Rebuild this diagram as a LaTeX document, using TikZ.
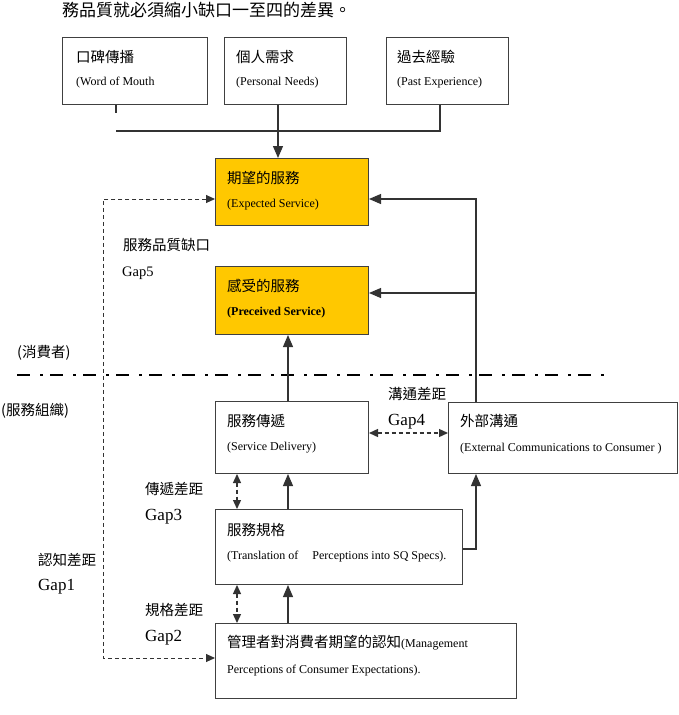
\documentclass[tikz,border=0pt]{standalone}
\usepackage{fontspec}
\setmainfont{Liberation Serif}
\newfontfamily\cjk{Noto Sans CJK TC}
\usetikzlibrary{arrows.meta}

\definecolor{boxgold}{HTML}{FFC800}
\newcommand\zhtext[1]{{\cjk\fontsize{14.5}{17}\selectfont #1}}

\tikzset{
  box/.style={draw=black!75, line width=1pt, anchor=north west, inner sep=0pt},
  goldbox/.style={box, fill=boxgold},
  en/.style={anchor=west, inner sep=0pt, font=\fontsize{12}{14}\selectfont},
  gaplbl/.style={anchor=west, inner sep=0pt, font=\fontsize{17}{20}\selectfont},
  line/.style={black!80, line width=1.1pt},
  tip/.style={line, -{Triangle[length=12pt,width=10pt]}},
  dtip/.style={line, line width=1.3pt, dash pattern=on 4pt off 3pt,
    {Triangle[length=9pt,width=8pt]}-{Triangle[length=9pt,width=8pt]}},
  sepline/.style={black, line width=2.5pt, dash pattern=on 13pt off 10pt on 3pt off 7pt}
}

\begin{document}
\begin{tikzpicture}[x=1pt,y=-1pt]
\useasboundingbox (0,0) rectangle (679,715);

\node[anchor=west, inner sep=0pt, font=\cjk\fontsize{17}{20}\selectfont] (intro) at (62,10) {務品質就必須縮小缺口一至四的差異。};

\node[box, minimum width=145, minimum height=67] (mouth) at (62,37) {};
\node[box, minimum width=122, minimum height=67] (needs) at (224,37) {};
\node[box, minimum width=122, minimum height=67] (past) at (386,37) {};
\node[en] (mouthzh) at (76,57) {\zhtext{口碑傳播}};
\node[en] (mouthen) at (76,83) {(Word of Mouth};
\node[en] (needszh) at (236,57) {\zhtext{個人需求}};
\node[en] (needsen) at (236,83) {(Personal Needs)};
\node[en] (pastzh) at (397,57) {\zhtext{過去經驗}};
\node[en] (pasten) at (397,83) {(Past Experience)};

\node[goldbox, minimum width=153, minimum height=67] (expect) at (215,158) {};
\node[en] (expectzh) at (227,178) {\zhtext{期望的服務}};
\node[en] (expecten) at (227,205) {(Expected Service)};

\node[goldbox, minimum width=153, minimum height=68] (perceive) at (215,266) {};
\node[en] (perceivezh) at (227,286) {\zhtext{感受的服務}};
\node[en, font=\fontsize{12}{14}\selectfont\bfseries] (perceiveen) at (227,313) {(Preceived Service)};

\node[box, minimum width=153, minimum height=72] (deliver) at (215,401) {};
\node[en] (deliverzh) at (227,421) {\zhtext{服務傳遞}};
\node[en] (deliveren) at (227,448) {(Service Delivery)};

\node[box, minimum width=229, minimum height=71] (extcomm) at (448,402) {};
\node[en] (extcommzh) at (460,421) {\zhtext{外部溝通}};
\node[en] (extcommen) at (460,449) {(External Communications to Consumer )};

\node[box, minimum width=247, minimum height=75] (spec) at (215,509) {};
\node[en] (speczh) at (227,530) {\zhtext{服務規格}};
\node[en] (specen) at (227,557) {(Translation of \hspace{8pt} Perceptions into SQ Specs).};

\node[box, minimum width=301, minimum height=75] (manage) at (215,623) {};
\node[en] (managezh) at (227,643) {\zhtext{管理者對消費者期望的認知}(Management};
\node[en] (manageen) at (227,671) {Perceptions of Consumer Expectations).};

\node[en] (consumer) at (17,353) {\zhtext{(消費者)}};
\node[en] (provider) at (1,411) {\zhtext{(服務組織)}};
\draw[sepline] (17,375) -- (608,375);

\node[en] (gap5zh) at (123,245) {\zhtext{服務品質缺口}};
\node[gaplbl, font=\fontsize{14.5}{17}\selectfont] (gap5) at (122,273) {Gap5};
\node[en] (gap4zh) at (388,394) {\zhtext{溝通差距}};
\node[gaplbl] (gap4) at (388,422) {Gap4};
\node[en] (gap3zh) at (145,489) {\zhtext{傳遞差距}};
\node[gaplbl] (gap3) at (145,517) {Gap3};
\node[en] (gap1zh) at (38,560) {\zhtext{認知差距}};
\node[gaplbl] (gap1) at (38,587) {Gap1};
\node[en] (gap2zh) at (145,610) {\zhtext{規格差距}};
\node[gaplbl] (gap2) at (145,638) {Gap2};

\coordinate (joinL) at (116,131);
\coordinate (joinM) at (278,131);
\coordinate (joinR) at (440,131);
\coordinate (stubend) at (116,113);
\coordinate (fbtop) at (476,199);
\coordinate (fbmid) at (476,293);
\coordinate (gapleft) at (103,199);
\coordinate (gapbot) at (103,658);
\coordinate (midx) at (288,0);
\coordinate (dashx) at (237,0);
\coordinate (commy) at (0,433);
\coordinate (specy) at (0,549);

\draw[line] (mouth.south -| joinL) -- (stubend);
\draw[line] (needs.south -| joinM) -- (joinM);
\draw[line] (past.south -| joinR) -- (joinR) -- (joinL);
\draw[tip] (joinM) -- (expect.north -| joinM);

\draw[tip] (extcomm.north -| fbtop) -- (fbtop) -- (expect.east |- fbtop);
\draw[tip] (fbmid) -- (perceive.east |- fbmid);
\draw[dtip, line width=1pt] (expect.west |- gapleft) -- (gapleft) -- (gapbot) -- (manage.west |- gapbot);

\draw[tip] (deliver.north -| midx) -- (perceive.south -| midx);
\draw[tip] (spec.north -| midx) -- (deliver.south -| midx);
\draw[tip] (manage.north -| midx) -- (spec.south -| midx);
\draw[dtip] (deliver.south -| dashx) -- (spec.north -| dashx);
\draw[dtip] (spec.south -| dashx) -- (manage.north -| dashx);
\draw[dtip] (deliver.east |- commy) -- (extcomm.west |- commy);
\draw[tip] (spec.east |- specy) -- (fbtop |- specy) -- (extcomm.south -| fbtop);
\end{tikzpicture}
\end{document}
